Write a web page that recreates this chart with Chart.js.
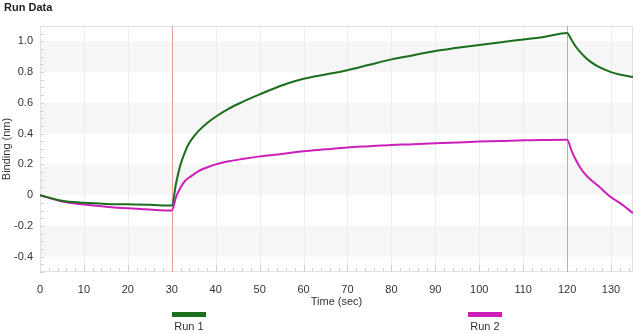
<!DOCTYPE html>
<html>
<head>
<meta charset="utf-8">
<script src="https://cdn.jsdelivr.net/npm/chart.js@4/dist/chart.umd.min.js"></script>
<style>
    body { margin: 0; background: #fff; font-family: "Liberation Sans", Arial, sans-serif; }
    #wrap { position: relative; width: 640px; height: 334px; }
    #title { position: absolute; left: 4px; top: 1px; font-size: 11px; font-weight: bold; color: #222; }
    .key { position: absolute; height: 5px; }
    .keyText { position: absolute; font-size: 11px; color: #333; width: 60px; text-align: center; }
</style>
</head>
<body>
<div id="wrap">
    <canvas id="runChart" width="640" height="334"></canvas>
    <div id="title">Run Data</div>
    <div class="key" style="left:172px; top:312px; width:34px; background:#1b6e1b;"></div>
    <div class="keyText" style="left:159px; top:320px;">Run 1</div>
    <div class="key" style="left:468px; top:312px; width:34px; background:#cc1fba;"></div>
    <div class="keyText" style="left:455px; top:320px;">Run 2</div>
</div>
<script>
// time points (sec)
const times = [0, 5, 10, 15, 20, 25, 30, 31, 32, 33, 34, 35, 36, 38, 40, 43, 46, 50, 55, 60,
    65, 70, 75, 80, 85, 90, 95, 100, 105, 110, 115, 120,
    121, 122, 123, 124, 125, 127, 130, 132, 135];

// binding (nm)
const run1 = [0, -0.037, -0.05, -0.057, -0.06, -0.063, -0.068, 0.08, 0.2, 0.28, 0.34, 0.38, 0.415, 0.468, 0.51, 0.563, 0.605, 0.655, 0.713, 0.757,
    0.785, 0.812, 0.848, 0.883, 0.91, 0.938, 0.958, 0.977, 0.995, 1.012, 1.03, 1.055,
    1.01, 0.965, 0.93, 0.9, 0.875, 0.837, 0.8, 0.785, 0.768];
const run2 = [0, -0.042, -0.061, -0.075, -0.086, -0.094, -0.1, -0.01, 0.05, 0.092, 0.115, 0.135, 0.155, 0.18, 0.2, 0.22, 0.235, 0.252, 0.268, 0.286,
    0.298, 0.31, 0.318, 0.326, 0.331, 0.338, 0.343, 0.348, 0.352, 0.357, 0.359, 0.36,
    0.29, 0.228, 0.178, 0.14, 0.11, 0.062, -0.014, -0.05, -0.117];

const xTicks = [0, 10, 20, 30, 40, 50, 60, 70, 80, 90, 100, 110, 120, 130];
const yTicks = [-0.4, -0.2, 0, 0.2, 0.4, 0.6, 0.8, 1.0];
const bands = [[-0.4, -0.2], [0, 0.2], [0.4, 0.6], [0.8, 1.0]];
const phaseMarks = [30, 120];

const toPoints = (ys) => ys.map((y, i) => ({ x: times[i], y: y }));

const decor = {
    id: "decor",
    beforeDatasetsDraw(chart) {
        const { ctx, chartArea: a, scales: { x, y } } = chart;
        ctx.save();
        ctx.fillStyle = "#f6f6f6";
        bands.forEach(([lo, hi]) => {
            const top = y.getPixelForValue(hi);
            const bot = y.getPixelForValue(lo);
            ctx.fillRect(a.left, top, a.right - a.left, bot - top);
        });
        // vertical grid
        ctx.strokeStyle = "#ececec";
        ctx.lineWidth = 1;
        xTicks.forEach((t) => {
            const px = Math.round(x.getPixelForValue(t)) + 0.5;
            ctx.beginPath();
            ctx.moveTo(px, a.top);
            ctx.lineTo(px, a.bottom);
            ctx.stroke();
        });
        // minor ticks
        ctx.strokeStyle = "#cfcfcf";
        for (let t = 0; t <= 135; t += 2) {
            const px = Math.round(x.getPixelForValue(t)) + 0.5;
            ctx.beginPath();
            ctx.moveTo(px, a.bottom);
            ctx.lineTo(px, a.bottom - (t % 10 === 0 ? 7 : 4));
            ctx.stroke();
        }
        for (let v = -0.5; v <= 1.1; v += 0.05) {
            const py = Math.round(y.getPixelForValue(v)) + 0.5;
            ctx.beginPath();
            ctx.moveTo(a.left, py);
            ctx.lineTo(a.left + 4, py);
            ctx.stroke();
        }
        // border
        ctx.strokeStyle = "#e0e0e0";
        ctx.strokeRect(a.left + 0.5, a.top + 0.5, a.right - a.left - 1, a.bottom - a.top - 1);
        // phase markers
        ctx.strokeStyle = "#e2a198";
        phaseMarks.forEach((t) => {
            const px = Math.round(x.getPixelForValue(t)) + 0.5;
            ctx.beginPath();
            ctx.moveTo(px, a.top);
            ctx.lineTo(px, a.bottom);
            ctx.stroke();
        });
        ctx.restore();
    },
};

new Chart(document.getElementById("runChart").getContext("2d"), {
    type: "line",
    data: {
        datasets: [
            {
                label: "Run 1",
                data: toPoints(run1),
                borderColor: "#1b6e1b",
                borderWidth: 2,
                pointRadius: 0,
                cubicInterpolationMode: "monotone",
            },
            {
                label: "Run 2",
                data: toPoints(run2),
                borderColor: "#cc1fba",
                borderWidth: 2,
                pointRadius: 0,
                cubicInterpolationMode: "monotone",
            },
        ],
    },
    options: {
        responsive: false,
        animation: false,
        layout: { padding: { top: 26, right: 7, bottom: 25, left: 0 } },
        plugins: { legend: { display: false }, tooltip: { enabled: false } },
        scales: {
            x: {
                type: "linear",
                min: 0,
                max: 135,
                afterBuildTicks: (s) => { s.ticks = xTicks.map((v) => ({ value: v })); },
                afterFit: (s) => { s.height = 37; },
                grid: { display: false, drawTicks: false },
                border: { display: false },
                ticks: { color: "#333", font: { size: 11, family: "Liberation Sans" }, padding: 11, maxRotation: 0 },
                title: { display: true, text: "Time (sec)", color: "#333", font: { size: 11, family: "Liberation Sans" }, padding: 0 },
            },
            y: {
                min: -0.5,
                max: 1.1,
                afterBuildTicks: (s) => { s.ticks = yTicks.map((v) => ({ value: v })); },
                afterFit: (s) => { s.width = 40; },
                grid: { display: false, drawTicks: false },
                border: { display: false },
                ticks: {
                    color: "#333",
                    font: { size: 11, family: "Liberation Sans" },
                    padding: 7,
                    callback: (v) => (v === 0 ? "0" : v.toFixed(1)),
                },
                title: { display: true, text: "Binding (nm)", color: "#333", font: { size: 11, family: "Liberation Sans" }, padding: 0 },
            },
        },
    },
    plugins: [decor],
});
</script>
</body>
</html>
